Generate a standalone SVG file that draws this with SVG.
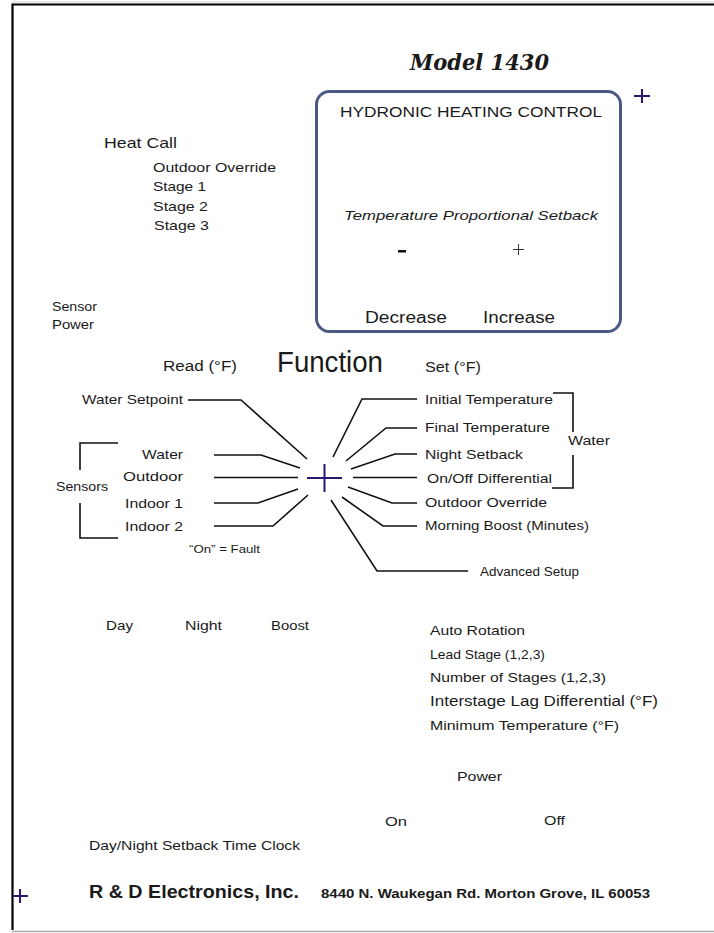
<svg xmlns="http://www.w3.org/2000/svg" width="714" height="933" viewBox="0 0 714 933">
<style>
text{font-family:"Liberation Sans",Arial,sans-serif;fill:#1a1a1a}
.s13{font-size:13px}.s14{font-size:14px}.s12{font-size:12px}
.c{stroke:#111;stroke-width:1.6;fill:none}
.x{stroke:#2b1670;stroke-width:2;fill:none}
</style>
<rect width="714" height="933" fill="#fff"/>
<g id="frame">
<path d="M12.5 930 V4.5 H714" stroke="#000" stroke-width="2.2" fill="none"/>
<line x1="12" y1="931.5" x2="714" y2="931.5" stroke="#aaa" stroke-width="1.5"/>
<line x1="12" y1="2" x2="714" y2="2" stroke="#ccc" stroke-width="1"/>
</g>
<g id="marks">
<path class="x" d="M634 96 H650 M642 89 V103"/>
<path class="x" d="M13 896 H28 M20 889 V903"/>
<path class="x" d="M307 478 H342 M324.5 464 V492"/>
</g>
<g id="title"><text x="410" y="70" style="font-family:'DejaVu Serif',serif;font-style:italic;font-weight:bold;font-size:23px" textLength="139" lengthAdjust="spacingAndGlyphs">Model 1430</text></g>
<g id="panel">
<rect x="316.5" y="91.5" width="304" height="240" rx="13" fill="none" stroke="#4b5a85" stroke-width="3"/>
<text x="340" y="117" style="font-size:15px" textLength="262" lengthAdjust="spacingAndGlyphs">HYDRONIC HEATING CONTROL</text>
<text x="344" y="220" class="s13" style="font-style:italic" textLength="254" lengthAdjust="spacingAndGlyphs">Temperature Proportional Setback</text>
<rect x="398" y="250" width="8" height="2.5" fill="#111"/>
<path d="M513 249.5 H524 M518.5 244 V255" stroke="#333" stroke-width="1" fill="none"/>
<text x="365" y="323" style="font-size:16px" textLength="82" lengthAdjust="spacingAndGlyphs">Decrease</text>
<text x="483" y="323" style="font-size:16px" textLength="72" lengthAdjust="spacingAndGlyphs">Increase</text>
</g>
<g id="heatcall">
<text x="104" y="148" style="font-size:15px" textLength="73" lengthAdjust="spacingAndGlyphs">Heat Call</text>
<text x="153" y="172" class="s13" textLength="123" lengthAdjust="spacingAndGlyphs">Outdoor Override</text>
<text x="153" y="191" class="s13" textLength="53" lengthAdjust="spacingAndGlyphs">Stage 1</text>
<text x="153" y="211" class="s13" textLength="55" lengthAdjust="spacingAndGlyphs">Stage 2</text>
<text x="154" y="230" class="s13" textLength="55" lengthAdjust="spacingAndGlyphs">Stage 3</text>
</g>
<g id="sensorpower">
<text x="52" y="311" class="s13" textLength="45" lengthAdjust="spacingAndGlyphs">Sensor</text>
<text x="52" y="329" class="s13" textLength="42" lengthAdjust="spacingAndGlyphs">Power</text>
</g>
<g id="function">
<text x="163" y="371" class="s14" textLength="74" lengthAdjust="spacingAndGlyphs">Read (°F)</text>
<text x="277" y="372" style="font-size:29px" textLength="106" lengthAdjust="spacingAndGlyphs">Function</text>
<text x="425" y="372" class="s14" textLength="56" lengthAdjust="spacingAndGlyphs">Set (°F)</text>
</g>
<g id="left-labels">
<text x="82" y="404" class="s13" textLength="101" lengthAdjust="spacingAndGlyphs">Water Setpoint</text>
<text x="142" y="459" class="s13" textLength="41" lengthAdjust="spacingAndGlyphs">Water</text>
<text x="123" y="481" class="s13" textLength="60" lengthAdjust="spacingAndGlyphs">Outdoor</text>
<text x="125" y="508" class="s13" textLength="58" lengthAdjust="spacingAndGlyphs">Indoor 1</text>
<text x="125" y="531" class="s13" textLength="58" lengthAdjust="spacingAndGlyphs">Indoor 2</text>
<text x="56" y="491" class="s13" textLength="52" lengthAdjust="spacingAndGlyphs">Sensors</text>
<text x="189" y="553" style="font-size:11px" textLength="71" lengthAdjust="spacingAndGlyphs">“On” = Fault</text>
</g>
<g id="right-labels">
<text x="425" y="404" class="s13" textLength="128" lengthAdjust="spacingAndGlyphs">Initial Temperature</text>
<text x="425" y="432" class="s13" textLength="125" lengthAdjust="spacingAndGlyphs">Final Temperature</text>
<text x="425" y="459" class="s13" textLength="98" lengthAdjust="spacingAndGlyphs">Night Setback</text>
<text x="427" y="483" class="s13" textLength="125" lengthAdjust="spacingAndGlyphs">On/Off Differential</text>
<text x="425" y="507" class="s13" textLength="122" lengthAdjust="spacingAndGlyphs">Outdoor Override</text>
<text x="425" y="530" class="s13" textLength="164" lengthAdjust="spacingAndGlyphs">Morning Boost (Minutes)</text>
<text x="480" y="576" class="s12" textLength="99" lengthAdjust="spacingAndGlyphs">Advanced Setup</text>
<text x="568" y="445" class="s13" textLength="42" lengthAdjust="spacingAndGlyphs">Water</text>
</g>
<g id="connectors">
<polyline class="c" points="188,400 241,400 307,459"/>
<polyline class="c" points="214,455 261,455 300,468"/>
<polyline class="c" points="214,477.5 298,477.5"/>
<polyline class="c" points="214,503 258,503 298,489"/>
<polyline class="c" points="214,526 273,526 308,495"/>
<polyline class="c" points="333,457 362,399 417,399"/>
<polyline class="c" points="346,461 386,428 417,428"/>
<polyline class="c" points="351,469 395,454 417,454"/>
<polyline class="c" points="353,477.5 417,477.5"/>
<polyline class="c" points="348,487 392,503 417,503"/>
<polyline class="c" points="342,497 383,526 417,526"/>
<polyline class="c" points="331,500 377,571 468,571"/>
<polyline class="c" points="118,443 80,443 80,470"/>
<polyline class="c" points="80,503 80,538 118,538"/>
<polyline class="c" points="553,393 573,393 573,432"/>
<polyline class="c" points="573,455 573,488 552,488"/>
</g>
<g id="mode">
<text x="106" y="630" class="s13" textLength="27" lengthAdjust="spacingAndGlyphs">Day</text>
<text x="185" y="630" class="s13" textLength="37" lengthAdjust="spacingAndGlyphs">Night</text>
<text x="271" y="630" class="s13" textLength="38" lengthAdjust="spacingAndGlyphs">Boost</text>
</g>
<g id="advanced">
<text x="430" y="635" class="s13" textLength="95" lengthAdjust="spacingAndGlyphs">Auto Rotation</text>
<text x="430" y="659" class="s13" textLength="115" lengthAdjust="spacingAndGlyphs">Lead Stage (1,2,3)</text>
<text x="430" y="682" class="s13" textLength="176" lengthAdjust="spacingAndGlyphs">Number of Stages (1,2,3)</text>
<text x="430" y="706" class="s14" textLength="228" lengthAdjust="spacingAndGlyphs">Interstage Lag Differential (°F)</text>
<text x="430" y="730" class="s13" textLength="189" lengthAdjust="spacingAndGlyphs">Minimum Temperature (°F)</text>
</g>
<g id="power">
<text x="457" y="781" class="s13" textLength="45" lengthAdjust="spacingAndGlyphs">Power</text>
<text x="385" y="826" class="s13" textLength="22" lengthAdjust="spacingAndGlyphs">On</text>
<text x="544" y="825" class="s13" textLength="21" lengthAdjust="spacingAndGlyphs">Off</text>
</g>
<g id="clock"><text x="89" y="850" class="s13" textLength="211" lengthAdjust="spacingAndGlyphs">Day/Night Setback Time Clock</text></g>
<g id="footer">
<text x="89" y="898" style="font-size:19px;font-weight:bold" textLength="210" lengthAdjust="spacingAndGlyphs">R &amp; D Electronics, Inc.</text>
<text x="321" y="898" style="font-size:13px;font-weight:bold" textLength="329" lengthAdjust="spacingAndGlyphs">8440 N. Waukegan Rd. Morton Grove, IL 60053</text>
</g>
</svg>
